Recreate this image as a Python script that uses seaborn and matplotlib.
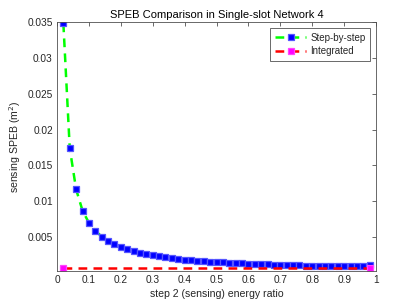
import matplotlib
matplotlib.use("Agg")
import matplotlib.pyplot as plt
import seaborn as sns
import pandas as pd

ratio = [0.02, 0.04, 0.06, 0.08, 0.10, 0.12, 0.14, 0.16, 0.18, 0.20,
         0.22, 0.24, 0.26, 0.28, 0.30, 0.32, 0.34, 0.36, 0.38, 0.40,
         0.42, 0.44, 0.46, 0.48, 0.50, 0.52, 0.54, 0.56, 0.58, 0.60,
         0.62, 0.64, 0.66, 0.68, 0.70, 0.72, 0.74, 0.76, 0.78, 0.80,
         0.82, 0.84, 0.86, 0.88, 0.90, 0.92, 0.94, 0.96, 0.98]
step_by_step = [0.0348, 0.0174, 0.01165, 0.0087, 0.0070, 0.0059, 0.00508, 0.00446, 0.00398, 0.0036,
                0.00329, 0.00302, 0.0028, 0.00261, 0.00245, 0.00231, 0.00218, 0.00207, 0.00197, 0.00187,
                0.00179, 0.00172, 0.00165, 0.00159, 0.00153, 0.00148, 0.00143, 0.00138, 0.00134, 0.0013,
                0.00126, 0.00123, 0.0012, 0.00116, 0.00114, 0.00111, 0.00108, 0.00106, 0.00103, 0.00101,
                0.00099, 0.00097, 0.00095, 0.00094, 0.00093, 0.00092, 0.00091, 0.00091, 0.00105]
integ_ratio = [0.02, 0.98]
integrated = [0.00072, 0.00072]

xticks = [0, 0.1, 0.2, 0.3, 0.4, 0.5, 0.6, 0.7, 0.8, 0.9, 1]
xticklabels = ["0", "0.1", "0.2", "0.3", "0.4", "0.5", "0.6", "0.7", "0.8", "0.9", "1"]
yticks = [0.005, 0.01, 0.015, 0.02, 0.025, 0.03, 0.035]
yticklabels = ["0.005", "0.01", "0.015", "0.02", "0.025", "0.03", "0.035"]

sns.set_style("white")
plt.rcParams['font.family'] = ['Liberation Sans', 'DejaVu Sans']

fig = plt.figure(figsize=(4.07, 3.06), dpi=100)
ax = fig.add_axes([0.140, 0.115, 0.784, 0.813])

df1 = pd.DataFrame({"x": ratio, "y": step_by_step})
df2 = pd.DataFrame({"x": integ_ratio, "y": integrated})

sns.lineplot(data=df1, x="x", y="y", ax=ax, color="#00ff00", linestyle=(0, (3.5, 2.5)),
             linewidth=1.8, marker="s", markersize=4.6, markerfacecolor="#0000ff",
             markeredgecolor="#5555ff", markeredgewidth=0.9, label="Step-by-step",
             dashes=False)
sns.lineplot(data=df2, x="x", y="y", ax=ax, color="#ff0000", linestyle=(0, (3.5, 2.5)),
             linewidth=1.8, marker="s", markersize=4.6, markerfacecolor="#ff00ff",
             markeredgecolor="#ff44ff", markeredgewidth=0.9, label="Integrated",
             dashes=False)

ax.set_xlim(0, 1)
ax.set_ylim(0.0003, 0.035)
ax.set_xticks(xticks)
ax.set_xticklabels(xticklabels)
ax.set_yticks(yticks)
ax.set_yticklabels(yticklabels)

for s in ax.spines.values():
    s.set_visible(True)
    s.set_color("#505050")
    s.set_linewidth(0.6)
ax.tick_params(direction="in", length=3, width=0.6, color="#505050",
               labelsize=7.3, labelcolor="#262626", top=True, right=True, pad=3)

ax.set_title("SPEB Comparison in Single-slot Network 4", fontsize=8, color="black", pad=3)
ax.set_xlabel("step 2 (sensing) energy ratio", fontsize=7.6, color="#262626", labelpad=3)
ax.set_ylabel("sensing SPEB (m$^2$)", fontsize=7.6, color="#262626", labelpad=3)

leg = ax.legend(loc="upper right", fontsize=7, frameon=True, fancybox=False,
                edgecolor="#262626", handlelength=3.2, borderpad=0.5,
                labelspacing=0.35, handletextpad=0.4, borderaxespad=0.6)
leg.get_frame().set_linewidth(0.6)

fig.savefig("out.png", dpi=100, facecolor="white")
